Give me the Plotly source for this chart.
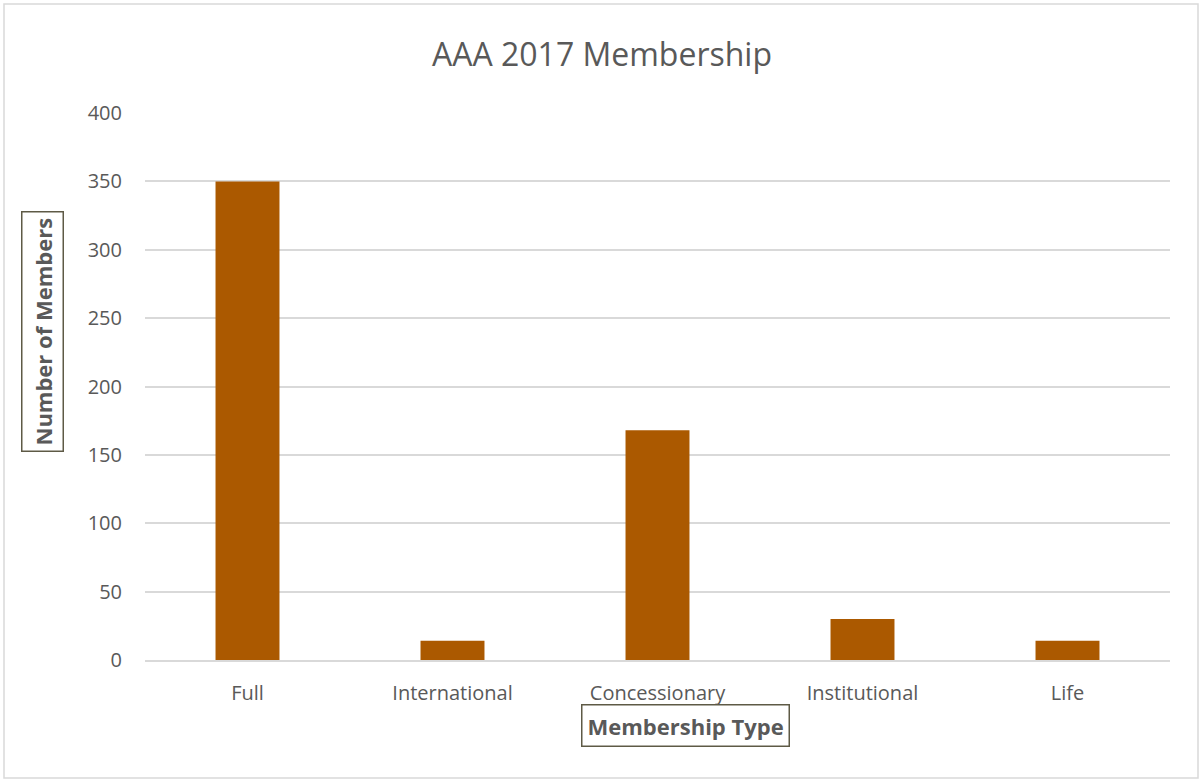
import plotly.graph_objects as go

categories = ["Full", "International", "Concessionary", "Institutional", "Life"]
members = [350, 14, 168, 30, 14]
y_ticks = [0, 50, 100, 150, 200, 250, 300, 350, 400]

FONT = "Open Sans"
TXT = "#595959"

fig = go.Figure(go.Bar(
    x=categories, y=members, width=0.312,
    marker=dict(color="#AB5900", line=dict(width=0)),
))

fig.update_layout(
    width=1204, height=782,
    margin=dict(l=145, r=34, t=113, b=122),
    paper_bgcolor="white", plot_bgcolor="white",
    showlegend=False,
    font=dict(family=FONT, color=TXT, size=20),
    title=dict(text="AAA 2017 Membership", x=0.5, xanchor="center",
               y=1 - 55 / 782, yanchor="middle",
               font=dict(family=FONT, size=32, color=TXT)),
    xaxis=dict(showgrid=False, showline=True, linecolor="#D9D9D9", linewidth=1.5,
               ticks="", tickfont=dict(size=20, color=TXT), ticklabelstandoff=14),
    yaxis=dict(range=[0, 400], tickvals=y_ticks, showgrid=True, gridcolor="#D9D9D9",
               gridwidth=1.5, zeroline=False, showline=False, ticks="",
               tickfont=dict(size=20, color=TXT), ticklabelstandoff=22),
    shapes=[dict(type="rect", xref="paper", yref="paper", x0=-141 / 1025, x1=1 + 28 / 1025,
                 y0=-118 / 547, y1=1 + 109 / 547, line=dict(color="#D9D9D9", width=1.5),
                 fillcolor="rgba(0,0,0,0)", layer="below")],
    annotations=[
        dict(text="<b>Membership Type</b>", xref="paper", yref="paper",
             x=(685.5 - 145) / 1025, y=-(725 - 660) / 547, xanchor="center", yanchor="middle",
             showarrow=False, font=dict(family=FONT, size=22, color=TXT),
             bordercolor="#5E5A46", borderwidth=1.5, borderpad=5, bgcolor="white"),
        dict(text="<b>Number of Members</b>", xref="paper", yref="paper",
             x=-(145 - 42) / 1025, y=(660 - 332) / 547, xanchor="center", yanchor="middle",
             textangle=-90, showarrow=False, font=dict(family=FONT, size=22, color=TXT),
             bordercolor="#5E5A46", borderwidth=1.5, borderpad=5, bgcolor="white"),
    ],
)

fig.write_html("out.html")
